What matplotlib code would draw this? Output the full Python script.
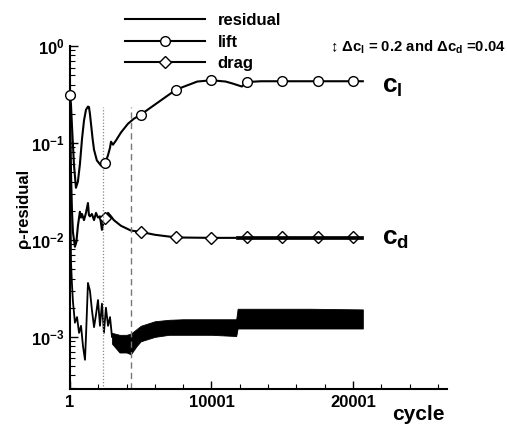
import numpy as np
import matplotlib
matplotlib.use("Agg")
import matplotlib.pyplot as plt
from matplotlib.ticker import FixedLocator, FuncFormatter, LogLocator, NullFormatter
from matplotlib.lines import Line2D

plt.rcParams['font.family'] = ['Liberation Sans', 'DejaVu Sans']
plt.rcParams['font.weight'] = 'bold'
plt.rcParams['mathtext.fontset'] = 'custom'
plt.rcParams['mathtext.rm'] = 'Liberation Sans:bold'
plt.rcParams['mathtext.bf'] = 'Liberation Sans:bold'
plt.rcParams['mathtext.it'] = 'Liberation Sans:bold'

# ---------------- data ----------------
lift_cycles = [1, 70, 140, 280, 420, 560, 700, 850, 990, 1130, 1270, 1340, 1410,
               1480, 1600, 1700, 1900, 2190, 2501, 2690, 2830, 2900, 3040, 3250,
               3600, 4100, 4520, 5001, 7501, 9000, 10001, 11000, 11500, 12150,
               12501, 13500, 15001, 17501, 20001, 20700]
lift_vals = [0.315, 0.25, 0.15, 0.06, 0.0345, 0.04, 0.06, 0.11, 0.17, 0.22, 0.237,
             0.235, 0.20, 0.16, 0.11, 0.085, 0.066, 0.0585, 0.0626, 0.075, 0.0894,
             0.103, 0.096, 0.106, 0.128, 0.158, 0.178, 0.196, 0.355, 0.43, 0.443,
             0.43, 0.41, 0.382, 0.425, 0.433, 0.433, 0.433, 0.433, 0.433]
lift_mark_cycles = [1, 2501, 5001, 7501, 10001, 12501, 15001, 17501, 20001]
lift_mark_vals = [0.315, 0.0626, 0.196, 0.355, 0.443, 0.425, 0.433, 0.433, 0.433]

drag_cycles = [1, 70, 140, 210, 350, 450, 560, 700, 780, 850, 990, 1130, 1270,
               1340, 1410, 1550, 1700, 1840, 1980, 2120, 2260, 2400, 2501, 2690,
               2900, 3100, 3600, 4300, 5001, 6000, 7501, 10001, 11700]
drag_vals = [0.2, 0.05, 0.02, 0.012, 0.0085, 0.0095, 0.014, 0.0195, 0.017, 0.0185,
             0.016, 0.019, 0.024, 0.018, 0.0175, 0.0185, 0.016, 0.019, 0.017,
             0.0175, 0.0127, 0.016, 0.0168, 0.019, 0.0175, 0.016, 0.014, 0.0125,
             0.0121, 0.0113, 0.0106, 0.0105, 0.0105]
drag_band_cycles = [11700, 20700]
drag_band_low = [0.0101, 0.0101]
drag_band_high = [0.0110, 0.0110]
drag_mark_cycles = [2501, 5001, 7501, 10001, 12501, 15001, 17501, 20001]
drag_mark_vals = [0.0168, 0.0121, 0.0106, 0.0105, 0.0107, 0.0107, 0.0107, 0.0107]

res_cycles = [1, 35, 70, 140, 210, 350, 500, 640, 780, 920, 1060, 1130, 1270,
              1410, 1550, 1700, 1840, 1980, 2120, 2260, 2400, 2540, 2690, 2830, 2970]
res_vals = [1.0, 0.03, 0.006, 3.5e-3, 2.3e-3, 1.4e-3, 1.6e-3, 1.1e-3, 1.3e-3,
            8e-4, 5.8e-4, 1.0e-3, 3.6e-3, 3.0e-3, 1.9e-3, 1.26e-3, 1.7e-3,
            2.4e-3, 1.3e-3, 2.2e-3, 1.1e-3, 2.0e-3, 1.3e-3, 1.6e-3, 1.0e-3]
res_band_cycles = [2970, 3500, 4000, 4300, 4700, 5001, 6000, 7000, 8000, 10001,
                   11750, 11850, 14000, 17000, 20700]
res_band_low = [8.5e-4, 6.9e-4, 6.9e-4, 6.6e-4, 8.0e-4, 9.0e-4, 1.0e-3, 1.05e-3,
                1.05e-3, 1.05e-3, 1.02e-3, 1.22e-3, 1.22e-3, 1.22e-3, 1.22e-3]
res_band_high = [1.1e-3, 1.05e-3, 1.05e-3, 1.08e-3, 1.2e-3, 1.3e-3, 1.45e-3, 1.5e-3,
                 1.52e-3, 1.52e-3, 1.52e-3, 1.95e-3, 1.95e-3, 1.95e-3, 1.92e-3]

vline_cycles = [2350, 4300]
vline_top = 0.237

x_ticks = [1, 10001, 20001]
x_minor = [2001, 4001, 6001, 8001, 12001, 14001, 16001, 18001, 22001, 24001, 26001]
y_ticks = [1e-3, 1e-2, 1e-1, 1e0]
xlim = (1, 26650)
ylim = (2.9e-4, 1.0)

# ---------------- figure ----------------
fig = plt.figure(figsize=(5.07, 4.25), dpi=100)
ax = fig.add_axes([70 / 507, 36 / 425, 377 / 507, 343 / 425])
ax.set_yscale('log')
ax.set_xlim(*xlim)
ax.set_ylim(*ylim)

lw = 1.5
ax.plot(res_cycles, res_vals, color='black', lw=1.3)
ax.fill_between(res_band_cycles, res_band_low, res_band_high, color='black',
                lw=0.6, edgecolor='black')
ax.plot(lift_cycles, lift_vals, color='black', lw=lw)
ax.plot(lift_mark_cycles, lift_mark_vals, ls='none', marker='o', ms=7,
        mfc='white', mec='black', mew=1, clip_on=False, zorder=4)
ax.plot(drag_cycles, drag_vals, color='black', lw=lw)
ax.plot(drag_mark_cycles, drag_mark_vals, ls='none', marker='D', ms=6,
        mfc='white', mec='black', mew=1, zorder=2)
ax.fill_between(drag_band_cycles, drag_band_low, drag_band_high, color='black',
                lw=0.5, edgecolor='black', zorder=3)

ax.vlines(vline_cycles[0], ylim[0], vline_top, colors='#888888', lw=0.9,
          linestyles=(0, (1, 1.5)))
ax.vlines(vline_cycles[1], ylim[0], vline_top, colors='#777777', lw=1.0,
          linestyles=(0, (4.5, 3)))

for s in ['top', 'right']:
    ax.spines[s].set_visible(False)
for s in ['left', 'bottom']:
    ax.spines[s].set_linewidth(1.5)

ax.xaxis.set_major_locator(FixedLocator(x_ticks))
ax.xaxis.set_minor_locator(FixedLocator(x_minor))
ax.xaxis.set_major_formatter(FuncFormatter(lambda v, p: '%d' % round(v)))
ax.yaxis.set_major_locator(FixedLocator(y_ticks))
ax.yaxis.set_minor_locator(LogLocator(base=10, subs=np.arange(2, 10)))
ax.yaxis.set_minor_formatter(NullFormatter())
ax.yaxis.set_major_formatter(FuncFormatter(
    lambda v, p: r'$\mathbf{10^{%d}}$' % round(np.log10(v))))
ax.tick_params(which='major', direction='in', length=6, width=1, labelsize=12, pad=4)
ax.tick_params(which='minor', direction='in', length=3.5, width=0.8)
for lab in ax.get_xticklabels() + ax.get_yticklabels():
    lab.set_fontweight('bold')

ax.set_ylabel('ρ-residual', fontsize=12, fontweight='bold')
ax.yaxis.set_label_coords((31 - 70) / 377, (389 - 208) / 343)
ax.set_xlabel('cycle', fontsize=15, fontweight='bold', ha='right', va='baseline')
ax.xaxis.set_label_coords((445 - 70) / 377, (389 - 420) / 343)

handles = [Line2D([], [], color='black', lw=lw),
           Line2D([], [], color='black', lw=lw, marker='o', ms=7, mfc='white',
                  mec='black'),
           Line2D([], [], color='black', lw=lw, marker='D', ms=6, mfc='white',
                  mec='black')]
fig.legend(handles, ['residual', 'lift', 'drag'], loc='upper left',
           bbox_to_anchor=(125 / 507, 1 - 13 / 425), frameon=False,
           prop={'size': 12, 'weight': 'bold'}, handlelength=4.8,
           handletextpad=0.75, labelspacing=0.4, borderpad=0, borderaxespad=0)

fig.text(330 / 507, 1 - 47 / 425,
         r'↕ Δc$_\mathbf{l}$ = 0.2 and Δc$_\mathbf{d}$ =0.04',
         fontsize=10.7, fontweight='bold', ha='left', va='center',
         family=['Liberation Sans', 'DejaVu Sans'])
fig.text(382 / 507, 1 - 93 / 425, r'c$_\mathbf{l}$', fontsize=19,
         fontweight='bold', ha='left', va='baseline')
fig.text(382 / 507, 1 - 245 / 425, r'c$_\mathbf{d}$', fontsize=19,
         fontweight='bold', ha='left', va='baseline')

fig.savefig('out.png', dpi=100)
